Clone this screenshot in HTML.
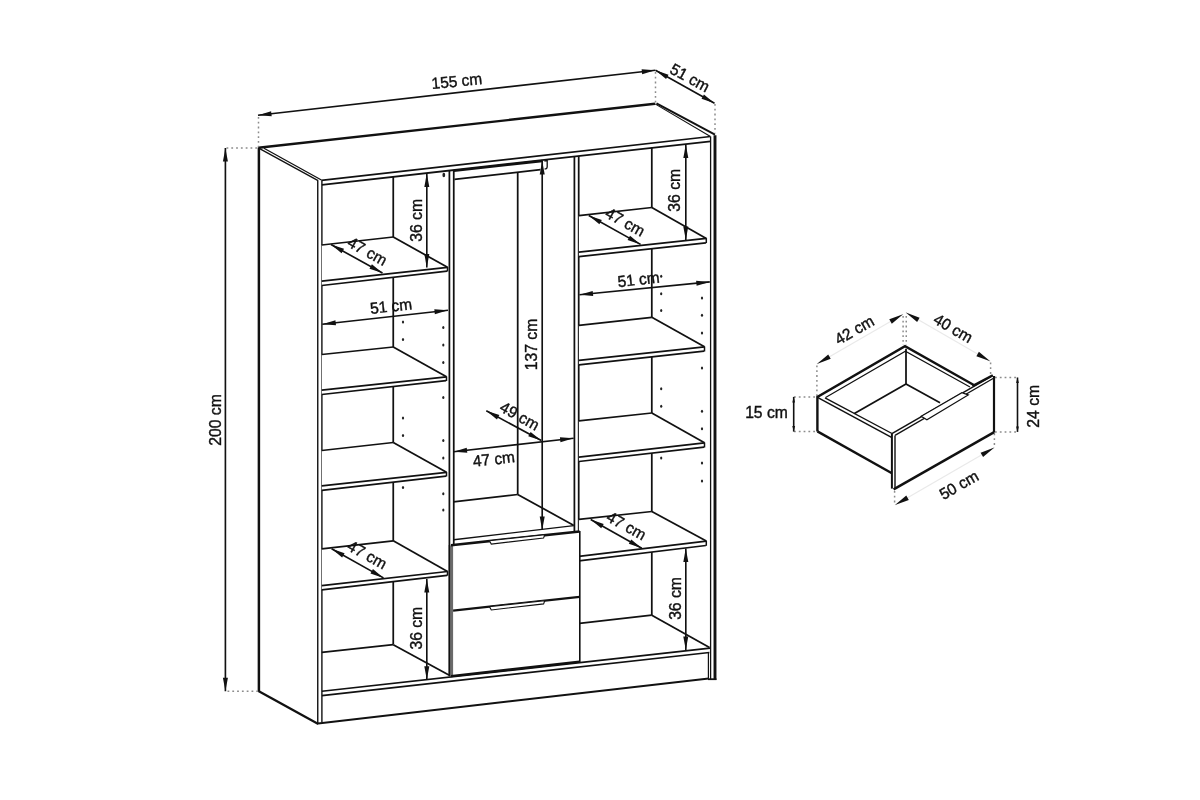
<!DOCTYPE html>
<html lang="pl"><head><meta charset="utf-8"><title>Wymiary szafy</title>
<style>
html,body{margin:0;padding:0;background:#fff;}
body{width:1200px;height:800px;overflow:hidden;}
svg{display:block;will-change:transform;}
svg text{font-family:"Liberation Sans",sans-serif;fill:#111;stroke:#111;stroke-width:0.4px;}
</style></head><body>
<svg width="1200" height="800" viewBox="0 0 1200 800">
<rect width="1200" height="800" fill="#fff"/>
<path d="M258.9 691.2 L258.9 147.6" stroke="#111" stroke-width="2.5" fill="none" stroke-linejoin="miter" />
<path d="M258.4 147.7 L655 103.8" stroke="#111" stroke-width="2.4" fill="none" stroke-linejoin="miter" />
<path d="M259.6 148.6 L318.1 180.6" stroke="#111" stroke-width="1.3" fill="none" stroke-linejoin="miter" />
<path d="M264 148.2 L321.4 180" stroke="#111" stroke-width="1.3" fill="none" stroke-linejoin="miter" />
<path d="M655 103.9 L710 136.3" stroke="#111" stroke-width="1.1" fill="none" stroke-linejoin="miter" />
<path d="M656.5 103.4 L715 134.6" stroke="#111" stroke-width="2.0" fill="none" stroke-linejoin="miter" />
<line x1="321.4" y1="180.3" x2="710.6" y2="136.5" stroke="#111" stroke-width="1.75" />
<line x1="321.9" y1="184.8" x2="710.6" y2="141.3" stroke="#111" stroke-width="1.75" />
<line x1="317.75" y1="180.6" x2="317.75" y2="723.4" stroke="#111" stroke-width="1.4" />
<line x1="321.9" y1="180.5" x2="321.9" y2="722.3" stroke="#111" stroke-width="1.4" />
<path d="M258.4 691 L318.3 723.9" stroke="#111" stroke-width="2.3" fill="none" stroke-linejoin="miter" />
<line x1="710.6" y1="136.4" x2="710.6" y2="679" stroke="#111" stroke-width="1.3" />
<line x1="715" y1="135.2" x2="715" y2="680" stroke="#111" stroke-width="2.9" />
<line x1="708.4" y1="652.5" x2="708.4" y2="678.6" stroke="#111" stroke-width="1.2" />
<line x1="708" y1="679.2" x2="716.4" y2="679.2" stroke="#111" stroke-width="1.8" />
<line x1="321.9" y1="691.25" x2="710" y2="648.1" stroke="#111" stroke-width="1.75" />
<line x1="321.9" y1="695.6" x2="709.4" y2="652.5" stroke="#111" stroke-width="1.75" />
<line x1="318" y1="723.4" x2="708.75" y2="678.5" stroke="#111" stroke-width="2.0" />
<line x1="449.4" y1="170.6" x2="449.4" y2="675" stroke="#111" stroke-width="1.75" />
<line x1="453.75" y1="170" x2="453.75" y2="545" stroke="#111" stroke-width="1.75" />
<line x1="574.4" y1="156.5" x2="574.4" y2="531" stroke="#111" stroke-width="1.75" />
<line x1="578.7" y1="156" x2="578.7" y2="650" stroke="#111" stroke-width="1.75" />
<line x1="393.25" y1="177" x2="393.25" y2="644.5" stroke="#111" stroke-width="1.75" />
<line x1="517.7" y1="172" x2="517.7" y2="494.5" stroke="#111" stroke-width="1.75" />
<line x1="651.8" y1="147.5" x2="651.8" y2="615" stroke="#111" stroke-width="1.75" />
<ellipse cx="443.8" cy="175" rx="1.4" ry="2.3" fill="#222"/>
<ellipse cx="403" cy="322" rx="1.0999999999999999" ry="1.5" fill="#222"/>
<ellipse cx="403" cy="339.5" rx="1.0999999999999999" ry="1.5" fill="#222"/>
<ellipse cx="443.3" cy="327.5" rx="1.0999999999999999" ry="1.5" fill="#222"/>
<ellipse cx="443.3" cy="345" rx="1.0999999999999999" ry="1.5" fill="#222"/>
<ellipse cx="443.3" cy="362.5" rx="1.0999999999999999" ry="1.5" fill="#222"/>
<ellipse cx="443.3" cy="397.5" rx="1.0999999999999999" ry="1.5" fill="#222"/>
<ellipse cx="403" cy="418" rx="1.0999999999999999" ry="1.5" fill="#222"/>
<ellipse cx="403" cy="435.5" rx="1.0999999999999999" ry="1.5" fill="#222"/>
<ellipse cx="443.3" cy="440.5" rx="1.0999999999999999" ry="1.5" fill="#222"/>
<ellipse cx="443.3" cy="458" rx="1.0999999999999999" ry="1.5" fill="#222"/>
<ellipse cx="403" cy="487.5" rx="1.0999999999999999" ry="1.5" fill="#222"/>
<ellipse cx="443.3" cy="493.8" rx="1.0999999999999999" ry="1.5" fill="#222"/>
<ellipse cx="443.3" cy="510" rx="1.0999999999999999" ry="1.5" fill="#222"/>
<ellipse cx="661.2" cy="276.2" rx="1.0999999999999999" ry="1.5" fill="#222"/>
<ellipse cx="661.2" cy="293.8" rx="1.0999999999999999" ry="1.5" fill="#222"/>
<ellipse cx="661.2" cy="310.5" rx="1.0999999999999999" ry="1.5" fill="#222"/>
<ellipse cx="702" cy="298" rx="1.0999999999999999" ry="1.5" fill="#222"/>
<ellipse cx="702" cy="315.3" rx="1.0999999999999999" ry="1.5" fill="#222"/>
<ellipse cx="702" cy="333" rx="1.0999999999999999" ry="1.5" fill="#222"/>
<ellipse cx="702" cy="368" rx="1.0999999999999999" ry="1.5" fill="#222"/>
<ellipse cx="661.2" cy="388.8" rx="1.0999999999999999" ry="1.5" fill="#222"/>
<ellipse cx="661.2" cy="406.2" rx="1.0999999999999999" ry="1.5" fill="#222"/>
<ellipse cx="702" cy="411.3" rx="1.0999999999999999" ry="1.5" fill="#222"/>
<ellipse cx="702" cy="428.8" rx="1.0999999999999999" ry="1.5" fill="#222"/>
<ellipse cx="661.2" cy="458" rx="1.0999999999999999" ry="1.5" fill="#222"/>
<ellipse cx="702" cy="463" rx="1.0999999999999999" ry="1.5" fill="#222"/>
<ellipse cx="702" cy="481" rx="1.0999999999999999" ry="1.5" fill="#222"/>
<path d="M321.75 245 L393.25 237 L447.5 267.3 L447.5 271.2 L321.75 285.5 Z" stroke="none" stroke-width="0" fill="#fff" stroke-linejoin="miter" />
<line x1="321.75" y1="245" x2="393.25" y2="237" stroke="#111" stroke-width="1.75" />
<line x1="393.25" y1="237" x2="447.5" y2="267.3" stroke="#111" stroke-width="1.75" />
<line x1="321.75" y1="281.1" x2="447.5" y2="267.3" stroke="#111" stroke-width="1.75" />
<line x1="321.75" y1="285.5" x2="447.1" y2="271.2" stroke="#111" stroke-width="1.75" />
<line x1="447.5" y1="267.0" x2="447.5" y2="271.5" stroke="#111" stroke-width="1.5" />
<path d="M321.75 354.5 L393.25 347 L446.5 376.8 L446.5 380.7 L321.75 394.5 Z" stroke="none" stroke-width="0" fill="#fff" stroke-linejoin="miter" />
<line x1="321.75" y1="354.5" x2="393.25" y2="347" stroke="#111" stroke-width="1.75" />
<line x1="393.25" y1="347" x2="446.5" y2="376.8" stroke="#111" stroke-width="1.75" />
<line x1="321.75" y1="390.1" x2="446.5" y2="376.8" stroke="#111" stroke-width="1.75" />
<line x1="321.75" y1="394.5" x2="446.1" y2="380.7" stroke="#111" stroke-width="1.75" />
<line x1="446.5" y1="376.5" x2="446.5" y2="381.0" stroke="#111" stroke-width="1.5" />
<path d="M321.75 450.5 L393.25 442.5 L446.5 472.3 L446.5 476.2 L321.75 490.3 Z" stroke="none" stroke-width="0" fill="#fff" stroke-linejoin="miter" />
<line x1="321.75" y1="450.5" x2="393.25" y2="442.5" stroke="#111" stroke-width="1.75" />
<line x1="393.25" y1="442.5" x2="446.5" y2="472.3" stroke="#111" stroke-width="1.75" />
<line x1="321.75" y1="485.90000000000003" x2="446.5" y2="472.3" stroke="#111" stroke-width="1.75" />
<line x1="321.75" y1="490.3" x2="446.1" y2="476.2" stroke="#111" stroke-width="1.75" />
<line x1="446.5" y1="472.0" x2="446.5" y2="476.5" stroke="#111" stroke-width="1.5" />
<path d="M321.75 548.8 L393.25 540.8 L447.5 571.5 L447.5 575.4 L321.75 589.8000000000001 Z" stroke="none" stroke-width="0" fill="#fff" stroke-linejoin="miter" />
<line x1="321.75" y1="548.8" x2="393.25" y2="540.8" stroke="#111" stroke-width="1.75" />
<line x1="393.25" y1="540.8" x2="447.5" y2="571.5" stroke="#111" stroke-width="1.75" />
<line x1="321.75" y1="585.6" x2="447.5" y2="571.5" stroke="#111" stroke-width="1.75" />
<line x1="321.75" y1="589.8000000000001" x2="447.1" y2="575.4" stroke="#111" stroke-width="1.75" />
<line x1="447.5" y1="571.2" x2="447.5" y2="575.6999999999999" stroke="#111" stroke-width="1.5" />
<line x1="321.75" y1="652.3" x2="393.25" y2="644.7" stroke="#111" stroke-width="1.75" />
<line x1="393.25" y1="644.7" x2="449.3" y2="675.3" stroke="#111" stroke-width="1.75" />
<path d="M578.9 215.6 L651.8 207.5 L706.3 238.4 L706.3 242.8 L578.9 256.59999999999997 Z" stroke="none" stroke-width="0" fill="#fff" stroke-linejoin="miter" />
<line x1="578.9" y1="215.6" x2="651.8" y2="207.5" stroke="#111" stroke-width="1.75" />
<line x1="651.8" y1="207.5" x2="706.3" y2="238.4" stroke="#111" stroke-width="1.75" />
<line x1="578.9" y1="252.2" x2="706.3" y2="238.4" stroke="#111" stroke-width="1.75" />
<line x1="578.9" y1="256.59999999999997" x2="705.9" y2="242.8" stroke="#111" stroke-width="1.75" />
<line x1="706.3" y1="238.1" x2="706.3" y2="243.10000000000002" stroke="#111" stroke-width="1.5" />
<path d="M578.9 325.3 L651.8 317.3 L704.5 346.8 L704.5 351.2 L578.9 364.8 Z" stroke="none" stroke-width="0" fill="#fff" stroke-linejoin="miter" />
<line x1="578.9" y1="325.3" x2="651.8" y2="317.3" stroke="#111" stroke-width="1.75" />
<line x1="651.8" y1="317.3" x2="704.5" y2="346.8" stroke="#111" stroke-width="1.75" />
<line x1="578.9" y1="360.40000000000003" x2="704.5" y2="346.8" stroke="#111" stroke-width="1.75" />
<line x1="578.9" y1="364.8" x2="704.1" y2="351.2" stroke="#111" stroke-width="1.75" />
<line x1="704.5" y1="346.5" x2="704.5" y2="351.5" stroke="#111" stroke-width="1.5" />
<path d="M578.9 420.8 L651.8 413 L704.5 442.8 L704.5 447.2 L578.9 461.5 Z" stroke="none" stroke-width="0" fill="#fff" stroke-linejoin="miter" />
<line x1="578.9" y1="420.8" x2="651.8" y2="413" stroke="#111" stroke-width="1.75" />
<line x1="651.8" y1="413" x2="704.5" y2="442.8" stroke="#111" stroke-width="1.75" />
<line x1="578.9" y1="457.1" x2="704.5" y2="442.8" stroke="#111" stroke-width="1.75" />
<line x1="578.9" y1="461.5" x2="704.1" y2="447.2" stroke="#111" stroke-width="1.75" />
<line x1="704.5" y1="442.5" x2="704.5" y2="447.5" stroke="#111" stroke-width="1.5" />
<path d="M578.9 519.3 L651.8 511.5 L706.3 541.0999999999999 L706.3 545.4999999999999 L578.9 560.8 Z" stroke="none" stroke-width="0" fill="#fff" stroke-linejoin="miter" />
<line x1="578.9" y1="519.3" x2="651.8" y2="511.5" stroke="#111" stroke-width="1.75" />
<line x1="651.8" y1="511.5" x2="706.3" y2="541.0999999999999" stroke="#111" stroke-width="1.75" />
<line x1="578.9" y1="556.4" x2="706.3" y2="541.0999999999999" stroke="#111" stroke-width="1.75" />
<line x1="578.9" y1="560.8" x2="705.9" y2="545.4999999999999" stroke="#111" stroke-width="1.75" />
<line x1="706.3" y1="540.8" x2="706.3" y2="545.7999999999998" stroke="#111" stroke-width="1.5" />
<line x1="579.5" y1="623.3" x2="651.8" y2="615.2" stroke="#111" stroke-width="1.75" />
<line x1="651.8" y1="615.2" x2="709.5" y2="647.5" stroke="#111" stroke-width="1.75" />
<line x1="453.3" y1="501.8" x2="517.7" y2="494.5" stroke="#111" stroke-width="1.75" />
<line x1="517.7" y1="494.5" x2="573.5" y2="525.2" stroke="#111" stroke-width="1.75" />
<line x1="453.75" y1="539.7" x2="573.9" y2="525.6" stroke="#111" stroke-width="1.4" />
<line x1="453.75" y1="170.8" x2="542.5" y2="161" stroke="#111" stroke-width="2.3" />
<line x1="454.4" y1="179.4" x2="540.5" y2="169.7" stroke="#111" stroke-width="1.75" />
<path d="M544.4 161 L547.2 160.6 L547.2 166.6 Q547 169.3 544.6 168.9" fill="none" stroke="#111" stroke-width="1.3"/>
<path d="M453.1 545 L579.6 531.5 L579.6 661.6 L453.1 676 Z" stroke="none" stroke-width="0" fill="#fff" stroke-linejoin="miter" />
<path d="M449.4 545.6 L453.1 545.2 L453.1 676 L449.4 676.3 Z" stroke="none" stroke-width="0" fill="#6a6a6a" stroke-linejoin="miter" />
<line x1="449.4" y1="545" x2="449.4" y2="676.3" stroke="#111" stroke-width="1.3" />
<line x1="451" y1="545.2" x2="579.6" y2="531.5" stroke="#111" stroke-width="2.6" />
<line x1="453.1" y1="610.6" x2="579.6" y2="596.9" stroke="#111" stroke-width="2.2" />
<line x1="451" y1="676.2" x2="579.6" y2="661.6" stroke="#111" stroke-width="2.3" />
<line x1="579.8" y1="531" x2="579.8" y2="662" stroke="#111" stroke-width="1.6" />
<path d="M489.4 540.7 L544.8 534.7 L543.5999999999999 538.0 L491.29999999999995 544.1 Z" stroke="#111" stroke-width="1.1" fill="#fff" stroke-linejoin="miter" />
<path d="M489.4 606.6 L544.8 600.6 L543.5999999999999 603.9 L491.29999999999995 610.0 Z" stroke="#111" stroke-width="1.1" fill="#fff" stroke-linejoin="miter" />
<line x1="258" y1="115.2" x2="655.3" y2="70.2" stroke="#111" stroke-width="1.65" />
<polygon points="258.00,115.20 271.13,111.20 271.70,116.16" fill="#111"/>
<polygon points="655.30,70.20 642.17,74.20 641.60,69.24" fill="#111"/>
<text transform="translate(456.8 80.9) rotate(-5.7) scale(0.975 1)" font-size="15.9" text-anchor="middle" x="0" y="0" dy="0.358em">155 cm</text>
<line x1="655.5" y1="70.3" x2="714.5" y2="103.2" stroke="#111" stroke-width="1.65" />
<polygon points="655.50,70.30 668.51,74.69 666.07,79.06" fill="#111"/>
<polygon points="714.50,103.20 701.49,98.81 703.93,94.44" fill="#111"/>
<text transform="translate(690 77.5) rotate(28.5) scale(0.975 1)" font-size="15.9" text-anchor="middle" x="0" y="0" dy="0.358em">51 cm</text>
<line x1="258.5" y1="117" x2="258.5" y2="147" stroke="#8c8c8c" stroke-width="1.5" stroke-dasharray="1.8 3"/>
<line x1="226.5" y1="148" x2="257.5" y2="148" stroke="#8c8c8c" stroke-width="1.5" stroke-dasharray="1.8 3"/>
<line x1="655.5" y1="72" x2="655.5" y2="103" stroke="#8c8c8c" stroke-width="1.5" stroke-dasharray="1.8 3"/>
<line x1="715" y1="104" x2="715" y2="133" stroke="#8c8c8c" stroke-width="1.5" stroke-dasharray="1.8 3"/>
<line x1="225.4" y1="148" x2="225.4" y2="691.2" stroke="#111" stroke-width="1.65" />
<polygon points="225.40,148.00 227.90,161.50 222.90,161.50" fill="#111"/>
<polygon points="225.40,691.20 222.90,677.70 227.90,677.70" fill="#111"/>
<text transform="translate(215.2 420) rotate(-90) scale(1.0 1)" font-size="15.7" text-anchor="middle" x="0" y="0" dy="0.358em">200 cm</text>
<line x1="227.5" y1="691.2" x2="258" y2="691.2" stroke="#8c8c8c" stroke-width="1.5" stroke-dasharray="1.8 3"/>
<line x1="426.8" y1="173.5" x2="426.8" y2="267.5" stroke="#111" stroke-width="1.65" />
<polygon points="426.80,173.50 429.30,187.00 424.30,187.00" fill="#111"/>
<polygon points="426.80,267.50 424.30,254.00 429.30,254.00" fill="#111"/>
<text transform="translate(416.1 220.4) rotate(-90) scale(1.0 1)" font-size="15.7" text-anchor="middle" x="0" y="0" dy="0.358em">36 cm</text>
<line x1="685.8" y1="144.5" x2="685.8" y2="240" stroke="#111" stroke-width="1.65" />
<polygon points="685.80,144.50 688.30,158.00 683.30,158.00" fill="#111"/>
<polygon points="685.80,240.00 683.30,226.50 688.30,226.50" fill="#111"/>
<text transform="translate(674.8 190.3) rotate(-90) scale(1.0 1)" font-size="15.7" text-anchor="middle" x="0" y="0" dy="0.358em">36 cm</text>
<line x1="426.8" y1="579" x2="426.8" y2="679.8" stroke="#111" stroke-width="1.65" />
<polygon points="426.80,579.00 429.30,592.50 424.30,592.50" fill="#111"/>
<polygon points="426.80,679.80 424.30,666.30 429.30,666.30" fill="#111"/>
<text transform="translate(416.5 628.2) rotate(-90) scale(1.0 1)" font-size="15.7" text-anchor="middle" x="0" y="0" dy="0.358em">36 cm</text>
<line x1="685.8" y1="548.5" x2="685.8" y2="650" stroke="#111" stroke-width="1.65" />
<polygon points="685.80,548.50 688.30,562.00 683.30,562.00" fill="#111"/>
<polygon points="685.80,650.00 683.30,636.50 688.30,636.50" fill="#111"/>
<text transform="translate(675.3 598.5) rotate(-90) scale(1.0 1)" font-size="15.7" text-anchor="middle" x="0" y="0" dy="0.358em">36 cm</text>
<line x1="331" y1="244.5" x2="382.5" y2="273" stroke="#111" stroke-width="1.65" />
<polygon points="331.00,244.50 344.02,248.85 341.60,253.22" fill="#111"/>
<polygon points="382.50,273.00 369.48,268.65 371.90,264.28" fill="#111"/>
<text transform="translate(367.5 251) rotate(29) scale(0.975 1)" font-size="15.9" text-anchor="middle" x="0" y="0" dy="0.358em">47 cm</text>
<line x1="588.8" y1="215.5" x2="640.6" y2="244.4" stroke="#111" stroke-width="1.65" />
<polygon points="588.80,215.50 601.81,219.89 599.37,224.26" fill="#111"/>
<polygon points="640.60,244.40 627.59,240.01 630.03,235.64" fill="#111"/>
<text transform="translate(625.3 221.8) rotate(29) scale(0.975 1)" font-size="15.9" text-anchor="middle" x="0" y="0" dy="0.358em">47 cm</text>
<line x1="331.6" y1="548.7" x2="383.5" y2="577.9" stroke="#111" stroke-width="1.65" />
<polygon points="331.60,548.70 344.59,553.14 342.14,557.50" fill="#111"/>
<polygon points="383.50,577.90 370.51,573.46 372.96,569.10" fill="#111"/>
<text transform="translate(367.3 554.6) rotate(29) scale(0.975 1)" font-size="15.9" text-anchor="middle" x="0" y="0" dy="0.358em">47 cm</text>
<line x1="590.7" y1="519.5" x2="641.8" y2="548.2" stroke="#111" stroke-width="1.65" />
<polygon points="590.70,519.50 603.69,523.93 601.25,528.29" fill="#111"/>
<polygon points="641.80,548.20 628.81,543.77 631.25,539.41" fill="#111"/>
<text transform="translate(626.5 525.6) rotate(29) scale(0.975 1)" font-size="15.9" text-anchor="middle" x="0" y="0" dy="0.358em">47 cm</text>
<line x1="322.3" y1="324.2" x2="448" y2="310.3" stroke="#111" stroke-width="1.65" />
<polygon points="322.30,324.20 335.44,320.23 335.99,325.20" fill="#111"/>
<polygon points="448.00,310.30 434.86,314.27 434.31,309.30" fill="#111"/>
<text transform="translate(391 306) rotate(-6.5) scale(0.975 1)" font-size="15.9" text-anchor="middle" x="0" y="0" dy="0.358em">51 cm</text>
<line x1="579.5" y1="294.8" x2="709.8" y2="281.9" stroke="#111" stroke-width="1.65" />
<polygon points="579.50,294.80 592.69,290.98 593.18,295.96" fill="#111"/>
<polygon points="709.80,281.90 696.61,285.72 696.12,280.74" fill="#111"/>
<text transform="translate(638.5 279.2) rotate(-6.5) scale(0.975 1)" font-size="15.9" text-anchor="middle" x="0" y="0" dy="0.358em">51 cm</text>
<line x1="542.2" y1="161" x2="542.2" y2="530" stroke="#111" stroke-width="1.65" />
<polygon points="542.20,161.00 544.70,174.50 539.70,174.50" fill="#111"/>
<polygon points="542.20,530.00 539.70,516.50 544.70,516.50" fill="#111"/>
<text transform="translate(531.8 344.5) rotate(-90) scale(1.0 1)" font-size="15.7" text-anchor="middle" x="0" y="0" dy="0.358em">137 cm</text>
<line x1="486.3" y1="410.8" x2="541.3" y2="440.5" stroke="#111" stroke-width="1.65" />
<polygon points="486.30,410.80 499.37,415.01 496.99,419.41" fill="#111"/>
<polygon points="541.30,440.50 528.23,436.29 530.61,431.89" fill="#111"/>
<text transform="translate(519.8 415.8) rotate(29) scale(0.975 1)" font-size="15.9" text-anchor="middle" x="0" y="0" dy="0.358em">49 cm</text>
<line x1="453.6" y1="451.8" x2="573.6" y2="438.3" stroke="#111" stroke-width="1.65" />
<polygon points="453.60,451.80 466.74,447.81 467.29,452.78" fill="#111"/>
<polygon points="573.60,438.30 560.46,442.29 559.91,437.32" fill="#111"/>
<text transform="translate(493.8 458.8) rotate(-6.5) scale(0.975 1)" font-size="15.9" text-anchor="middle" x="0" y="0" dy="0.358em">47 cm</text>
<line x1="816.9" y1="363.9" x2="903.1" y2="314.3" stroke="#e9e9e9" stroke-width="1.2" />
<polygon points="816.90,363.90 828.22,354.50 830.71,358.84" fill="#111"/>
<polygon points="903.10,314.30 891.78,323.70 889.29,319.36" fill="#111"/>
<text transform="translate(854.2 329.8) rotate(-30) scale(0.975 1)" font-size="15.9" text-anchor="middle" x="0" y="0" dy="0.358em">42 cm</text>
<line x1="905.8" y1="312.6" x2="990.2" y2="361.2" stroke="#e9e9e9" stroke-width="1.2" />
<polygon points="905.80,312.60 919.61,317.67 917.12,322.00" fill="#111"/>
<polygon points="990.20,361.20 976.39,356.13 978.88,351.80" fill="#111"/>
<text transform="translate(953.3 328) rotate(30) scale(0.975 1)" font-size="15.9" text-anchor="middle" x="0" y="0" dy="0.358em">40 cm</text>
<line x1="895" y1="505" x2="994.4" y2="447.6" stroke="#e9e9e9" stroke-width="1.2" />
<polygon points="895.00,505.00 906.31,495.58 908.81,499.91" fill="#111"/>
<polygon points="994.40,447.60 983.09,457.02 980.59,452.69" fill="#111"/>
<text transform="translate(958.8 484.8) rotate(-30) scale(0.975 1)" font-size="15.9" text-anchor="middle" x="0" y="0" dy="0.358em">50 cm</text>
<line x1="816.9" y1="365.5" x2="816.9" y2="396" stroke="#8c8c8c" stroke-width="1.5" stroke-dasharray="1.8 3"/>
<line x1="903.1" y1="316" x2="903.1" y2="345" stroke="#8c8c8c" stroke-width="1.5" stroke-dasharray="1.8 3"/>
<line x1="906.25" y1="316" x2="906.25" y2="345" stroke="#8c8c8c" stroke-width="1.5" stroke-dasharray="1.8 3"/>
<line x1="990.6" y1="362.5" x2="990.6" y2="374" stroke="#8c8c8c" stroke-width="1.5" stroke-dasharray="1.8 3"/>
<line x1="894.6" y1="491" x2="894.6" y2="505" stroke="#8c8c8c" stroke-width="1.5" stroke-dasharray="1.8 3"/>
<line x1="994.4" y1="433.5" x2="994.4" y2="447.5" stroke="#8c8c8c" stroke-width="1.5" stroke-dasharray="1.8 3"/>
<line x1="794" y1="396.9" x2="816.5" y2="396.9" stroke="#8c8c8c" stroke-width="1.5" stroke-dasharray="1.8 3"/>
<line x1="794" y1="431.4" x2="816.5" y2="431.4" stroke="#8c8c8c" stroke-width="1.5" stroke-dasharray="1.8 3"/>
<line x1="793.7" y1="396.9" x2="793.7" y2="431.6" stroke="#111" stroke-width="1.6" />
<polygon points="793.70,396.90 795.10,402.40 792.30,402.40" fill="#111"/>
<polygon points="793.70,431.60 792.30,426.10 795.10,426.10" fill="#111"/>
<text transform="translate(766.5 412.4) rotate(0) scale(1.0 1)" font-size="15.7" text-anchor="middle" x="0" y="0" dy="0.358em">15 cm</text>
<line x1="995" y1="377.5" x2="1017.5" y2="377.5" stroke="#8c8c8c" stroke-width="1.5" stroke-dasharray="1.8 3"/>
<line x1="995" y1="431.9" x2="1017.5" y2="431.9" stroke="#8c8c8c" stroke-width="1.5" stroke-dasharray="1.8 3"/>
<line x1="1017.5" y1="377.5" x2="1017.5" y2="431.9" stroke="#111" stroke-width="1.6" />
<polygon points="1017.50,377.50 1018.90,383.00 1016.10,383.00" fill="#111"/>
<polygon points="1017.50,431.90 1016.10,426.40 1018.90,426.40" fill="#111"/>
<text transform="translate(1033.8 406.3) rotate(-90) scale(1.0 1)" font-size="15.7" text-anchor="middle" x="0" y="0" dy="0.358em">24 cm</text>
<line x1="906" y1="348.8" x2="906" y2="384" stroke="#111" stroke-width="1.75" />
<line x1="906" y1="384" x2="854.4" y2="413.5" stroke="#111" stroke-width="1.75" />
<line x1="906" y1="384" x2="940" y2="402.8" stroke="#111" stroke-width="1.75" />
<path d="M817.4 431.4 L817.4 397 L905 346.2 L973.8 385" stroke="#111" stroke-width="2.4" fill="none" stroke-linejoin="miter" />
<path d="M825.6 397.6 L905.4 351.2 L970 387" stroke="#111" stroke-width="1.2" fill="none" stroke-linejoin="miter" />
<line x1="817.5" y1="397.4" x2="891.5" y2="437.4" stroke="#111" stroke-width="1.5" />
<line x1="825" y1="397.8" x2="892" y2="433.5" stroke="#111" stroke-width="1.4" />
<line x1="817.4" y1="431.4" x2="891.9" y2="473.2" stroke="#111" stroke-width="2.4" />
<path d="M891.9 433.6 L992.5 375.6 L994 376.5 L994 432.2 L893.5 489.2 L891.9 488 Z" stroke="none" stroke-width="0" fill="#fff" stroke-linejoin="miter" />
<line x1="891.9" y1="433.4" x2="891.9" y2="488.6" stroke="#111" stroke-width="2.0" />
<line x1="895" y1="435.5" x2="895" y2="488" stroke="#111" stroke-width="1.4" />
<line x1="893.6" y1="489.3" x2="994.2" y2="432.1" stroke="#111" stroke-width="2.5" />
<line x1="994" y1="376" x2="994" y2="432.4" stroke="#111" stroke-width="2.2" />
<line x1="891.9" y1="433.6" x2="992.6" y2="375.6" stroke="#111" stroke-width="1.5" />
<line x1="895" y1="435.4" x2="993.5" y2="378.3" stroke="#111" stroke-width="1.3" />
<line x1="972.5" y1="386" x2="992.8" y2="375.3" stroke="#111" stroke-width="2.4" />
<path d="M921.2 416.3 L961.9 392.6 L968.2 395 L926.9 419.7 Z" stroke="#111" stroke-width="1.3" fill="#fff" stroke-linejoin="miter" />
</svg>
</body></html>
